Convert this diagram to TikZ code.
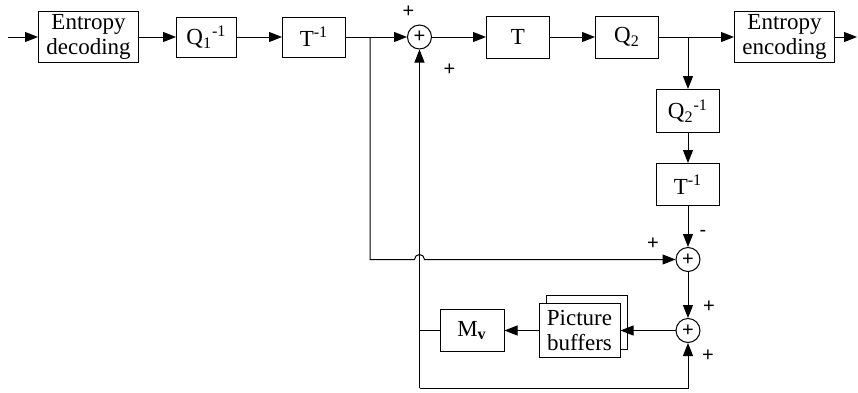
\documentclass[tikz,border=0pt]{standalone}
\usepackage{amsmath}
\usepackage{fontspec}
\setmainfont{Liberation Serif}
\setsansfont{Liberation Sans}
\usepackage{tikz}
\usetikzlibrary{arrows.meta,positioning,backgrounds}

\begin{document}
\begin{tikzpicture}[
  x=1pt, y=1pt, line width=0.5pt,
  node distance=20pt,
  blk/.style={draw, align=center, inner sep=1pt, fill=white,
              font=\fontsize{11.5}{12.5}\selectfont,
              minimum width=31.5pt, minimum height=21pt},
  wide/.style={blk, minimum width=50pt, minimum height=25.5pt},
  sum/.style={draw, circle, minimum size=12pt, inner sep=0pt, font=\normalsize\sffamily},
  arr/.style={-{Triangle[length=6.5pt,width=5pt]}},
  sgn/.style={font=\normalsize\sffamily, inner sep=0pt}]
  \useasboundingbox (0,0) rectangle (429,-196);

  % forward path
  \coordinate (in) at (4,-18.5);
  \node[wide, anchor=west] (ed) at (19,-18.5) {Entropy\\decoding};
  \node[blk, right=18.5pt of ed, minimum width=30pt, minimum height=20pt] (q1i) {Q\textsubscript{1}\textsuperscript{-1}};
  \node[blk, right=22.5pt of q1i, minimum height=20pt] (ti) {T\textsuperscript{-1}};
  \node[sum, right=30.5pt of ti] (sum1) {+};
  \node[blk, right=27pt of sum1] (t) {T};
  \node[blk, right=22.5pt of t] (q2) {Q\textsubscript{2}};
  \node[wide, right=37.5pt of q2] (ee) {Entropy\\encoding};
  \coordinate (out) at (428.5,-18.5);
  \coordinate (j1) at (185,-18.5);
  \coordinate (j2) at (344,-18.5);

  % local reconstruction
  \node[blk, below=26pt of j2, minimum height=21.5pt] (q2i) {Q\textsubscript{2}\textsuperscript{-1}};
  \node[blk, below=15pt of q2i] (ti2) {T\textsuperscript{-1}};
  \node[sum, below=20.5pt of ti2] (sum2) {+};
  \node[sum, below=23pt of sum2] (sum3) {+};
  \node[blk, left=27.5pt of sum3, minimum width=40.5pt, minimum height=27pt] (pb) {Picture\\buffers};
  \begin{scope}[on background layer]
    \node[blk, minimum width=40.5pt, minimum height=27pt] (pbb) at ([shift={(3.5pt,4pt)}]pb.center) {};
  \end{scope}
  \node[blk, left=17pt of pb, minimum width=32pt] (mv) {M$_{\textbf{v}}$};
  \coordinate (hop) at (sum1 |- sum2);
  \coordinate (fb) at (sum1 |- 0,-194);

  \draw[arr] (in) -- (ed);
  \draw[arr] (ed) -- (q1i);
  \draw[arr] (q1i) -- (ti);
  \draw[arr] (ti) -- (sum1);
  \draw[arr] (sum1) -- (t);
  \draw[arr] (t) -- (q2);
  \draw[arr] (q2) -- (ee);
  \draw[arr] (ee) -- (out);
  \draw[arr] (j2) -- (q2i);
  \draw[arr] (q2i) -- (ti2);
  \draw[arr] (ti2) -- (sum2);
  \draw[arr] (j1) |- ([xshift=-2.5pt]hop) arc[start angle=180, end angle=0, radius=2.5pt] -- (sum2);
  \draw[arr] (sum2) -- (sum3);
  \draw[arr] (sum3) -- (sum3 -| pb.east);
  \draw[arr] (pb) -- (mv);
  \draw (mv) -- (mv -| fb);
  \draw[arr] (fb) -- (sum1);
  \draw[arr] (fb) -| (sum3);

  % signs
  \node[sgn] at ([shift={(-5.5pt,12.5pt)}]sum1.center) {+};
  \node[sgn] at ([shift={(15pt,-16.5pt)}]sum1.center) {+};
  \node[sgn] at ([shift={(-17.5pt,8pt)}]sum2.center) {+};
  \node[sgn] at ([shift={(7.5pt,13pt)}]sum2.center) {-};
  \node[sgn] at ([shift={(10.5pt,12pt)}]sum3.center) {+};
  \node[sgn] at ([shift={(10pt,-12.5pt)}]sum3.center) {+};
\end{tikzpicture}
\end{document}
